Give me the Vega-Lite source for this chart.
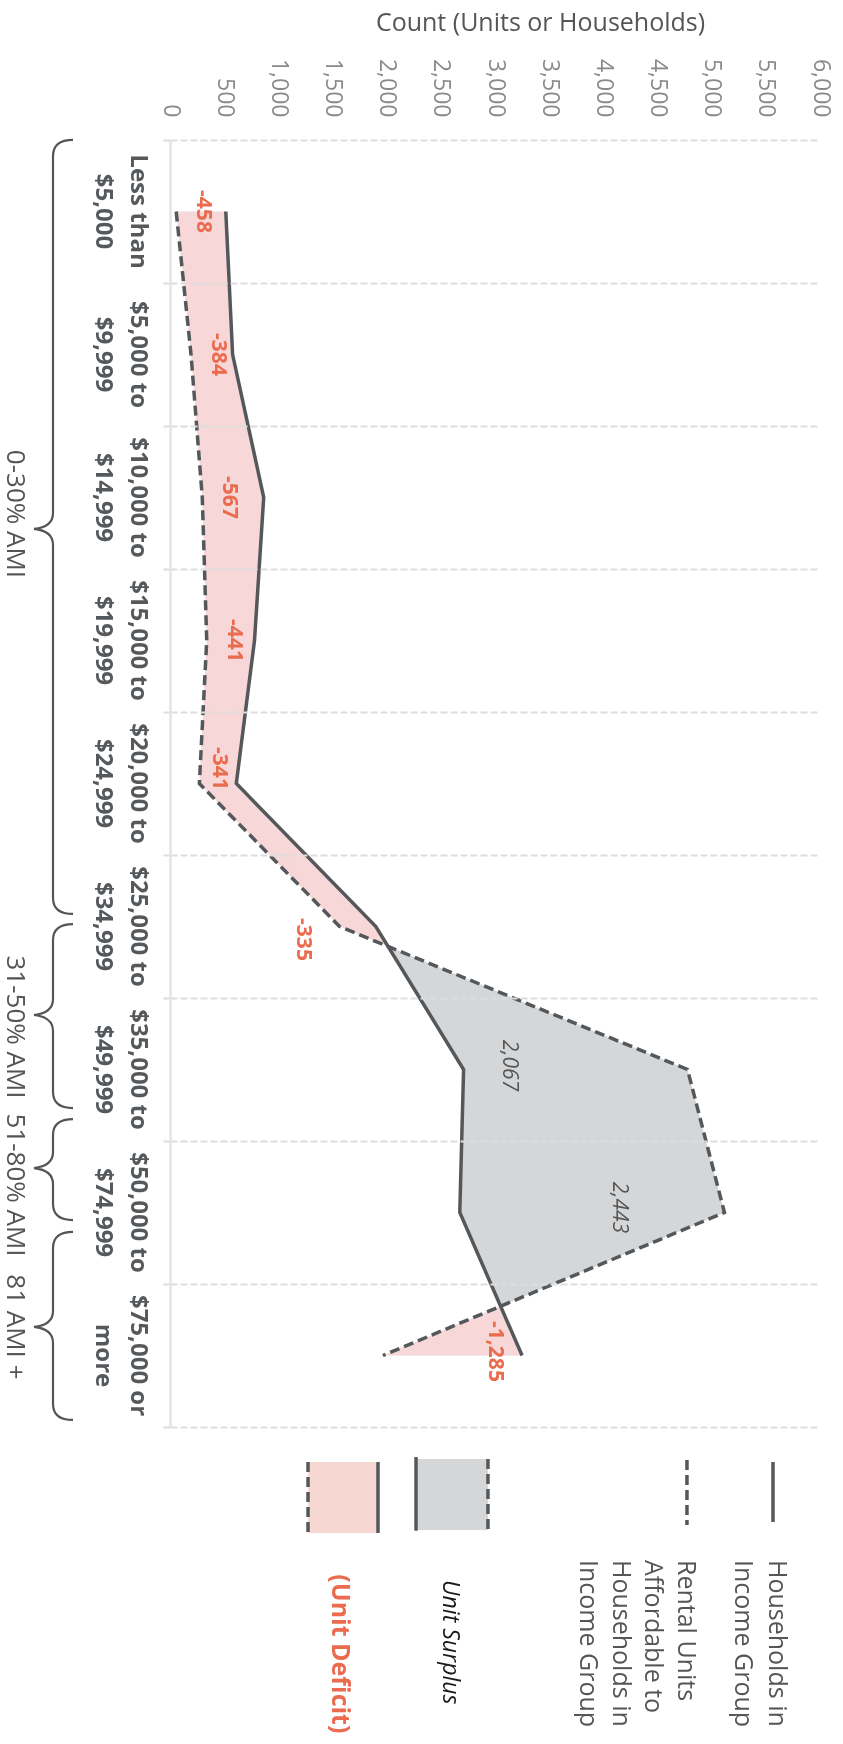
{
  "$schema": "https://vega.github.io/schema/vega-lite/v6.json",
  "width": 650,
  "height": 1287,
  "autosize": {"type": "none"},
  "padding": {"left": 170, "top": 140, "right": 23, "bottom": 317},
  "background": "white",
  "config": {
    "font": "Open Sans",
    "view": {"stroke": null},
    "locale": {"number": {"decimal": ".", "thousands": ",", "grouping": [3], "currency": ["$", ""], "minus": "-"}}
  },
  "datasets": {
    "income": [
      {"idx": 0, "income": "Less than\n$5,000", "ami": "0-30% AMI", "households": 515, "rental": 57, "gap": -458},
      {"idx": 1, "income": "$5,000 to\n$9,999", "ami": "0-30% AMI", "households": 578, "rental": 194, "gap": -384},
      {"idx": 2, "income": "$10,000 to\n$14,999", "ami": "0-30% AMI", "households": 865, "rental": 298, "gap": -567},
      {"idx": 3, "income": "$15,000 to\n$19,999", "ami": "0-30% AMI", "households": 780, "rental": 339, "gap": -441},
      {"idx": 4, "income": "$20,000 to\n$24,999", "ami": "0-30% AMI", "households": 612, "rental": 271, "gap": -341},
      {"idx": 5, "income": "$25,000 to\n$34,999", "ami": "0-30% AMI", "households": 1900, "rental": 1565, "gap": -335},
      {"idx": 6, "income": "$35,000 to\n$49,999", "ami": "31-50% AMI", "households": 2710, "rental": 4777, "gap": 2067},
      {"idx": 7, "income": "$50,000 to\n$74,999", "ami": "51-80% AMI", "households": 2675, "rental": 5118, "gap": 2443},
      {"idx": 8, "income": "$75,000 or\nmore", "ami": "81 AMI +", "households": 3250, "rental": 1965, "gap": -1285}
    ],
    "groups": [
      {"ami": "0-30% AMI", "pos": 2.115},
      {"ami": "31-50% AMI", "pos": 5.703},
      {"ami": "51-80% AMI", "pos": 6.808},
      {"ami": "81 AMI +", "pos": 7.8}
    ]
  },
  "data": {"name": "income"},
  "layer": [
    {
      "mark": {"type": "area", "orient": "horizontal", "color": "#D5D6D8", "interpolate": "linear"},
      "encoding": {
        "y": {
          "field": "idx", "type": "quantitative",
          "scale": {"domain": [-0.5, 8.5], "reverse": true, "nice": false, "zero": false},
          "axis": {
            "values": [-0.5, 0.5, 1.5, 2.5, 3.5, 4.5, 5.5, 6.5, 7.5, 8.5],
            "labels": false, "title": null,
            "grid": true, "gridColor": "#dddddd", "gridDash": [7, 3], "gridWidth": 2,
            "ticks": true, "tickSize": 7, "tickColor": "#dddddd", "tickDash": [7, 3], "tickWidth": 2,
            "domain": true, "domainColor": "#e4e4e4", "domainWidth": 2.5,
            "zindex": 1
          }
        },
        "x": {
          "field": "households", "type": "quantitative", "stack": null,
          "scale": {"domain": [0, 6000], "nice": false, "zero": true},
          "axis": {
            "orient": "top",
            "values": [0, 500, 1000, 1500, 2000, 2500, 3000, 3500, 4000, 4500, 5000, 5500, 6000],
            "format": ",d",
            "labelAngle": 90, "labelAlign": "right", "labelBaseline": "middle",
            "labelPadding": 23, "ticks": false, "tickSize": 0, "domain": false, "grid": false,
            "labelColor": "#8a8a8a", "labelFontSize": 23, "labelFont": "Open Sans",
            "labelFlush": false, "labelOverlap": false, "labelBound": false,
            "title": "Count (Units or Households)", "titleFontSize": 25, "titleFontWeight": "normal",
            "titleColor": "#555555", "titleX": 370, "titleY": -118, "titleAlign": "center",
            "titleBaseline": "middle", "titleAngle": 0, "titleFont": "Open Sans"
          }
        },
        "x2": {"field": "rental"}
      }
    },
    {
      "mark": {"type": "area", "orient": "horizontal", "color": "#F7D7D2", "blend": "lighten"},
      "encoding": {
        "y": {"field": "idx", "type": "quantitative"},
        "x": {"field": "households", "type": "quantitative", "stack": null}
      }
    },
    {
      "mark": {"type": "line", "color": "#54585B", "strokeWidth": 3.5},
      "encoding": {
        "y": {"field": "idx", "type": "quantitative"},
        "x": {"field": "households", "type": "quantitative"},
        "order": {"field": "idx"}
      }
    },
    {
      "mark": {"type": "line", "color": "#54585B", "strokeWidth": 3.5, "strokeDash": [10, 5]},
      "encoding": {
        "y": {"field": "idx", "type": "quantitative"},
        "x": {"field": "rental", "type": "quantitative"},
        "order": {"field": "idx"}
      }
    },
    {
      "transform": [{"filter": "datum.idx <= 3"}],
      "mark": {"type": "text", "angle": 90, "align": "center", "baseline": "middle", "dy": -27, "fontSize": 21, "fontWeight": "bold", "color": "#EA6B4E"},
      "encoding": {
        "y": {"field": "idx", "type": "quantitative"},
        "x": {"field": "rental", "type": "quantitative"},
        "text": {"field": "gap", "format": ",d"}
      }
    },
    {
      "transform": [{"filter": "datum.idx == 4"}],
      "mark": {"type": "text", "angle": 90, "align": "center", "baseline": "middle", "dy": -20, "dx": -15, "fontSize": 21, "fontWeight": "bold", "color": "#EA6B4E"},
      "encoding": {
        "y": {"field": "idx", "type": "quantitative"},
        "x": {"field": "rental", "type": "quantitative"},
        "text": {"field": "gap", "format": ",d"}
      }
    },
    {
      "transform": [{"filter": "datum.idx == 5"}],
      "mark": {"type": "text", "angle": 90, "align": "center", "baseline": "middle", "dy": 37, "dx": 13, "fontSize": 21, "fontWeight": "bold", "color": "#EA6B4E"},
      "encoding": {
        "y": {"field": "idx", "type": "quantitative"},
        "x": {"field": "rental", "type": "quantitative"},
        "text": {"field": "gap", "format": ",d"}
      }
    },
    {
      "transform": [{"filter": "datum.idx == 6"}],
      "mark": {"type": "text", "angle": 90, "align": "center", "baseline": "middle", "dy": -45, "dx": -4, "fontSize": 21, "fontStyle": "italic", "color": "#555555"},
      "encoding": {
        "y": {"field": "idx", "type": "quantitative"},
        "x": {"field": "households", "type": "quantitative"},
        "text": {"field": "gap", "format": ",d"}
      }
    },
    {
      "transform": [{"filter": "datum.idx == 7"}],
      "mark": {"type": "text", "angle": 90, "align": "center", "baseline": "middle", "dy": -159, "dx": -5, "fontSize": 21, "fontStyle": "italic", "color": "#555555"},
      "encoding": {
        "y": {"field": "idx", "type": "quantitative"},
        "x": {"field": "households", "type": "quantitative"},
        "text": {"field": "gap", "format": ",d"}
      }
    },
    {
      "transform": [{"filter": "datum.idx == 8"}],
      "mark": {"type": "text", "angle": 90, "align": "center", "baseline": "middle", "dy": 27, "dx": -4, "fontSize": 21, "fontWeight": "bold", "color": "#EA6B4E"},
      "encoding": {
        "y": {"field": "idx", "type": "quantitative"},
        "x": {"field": "households", "type": "quantitative"},
        "text": {"field": "gap", "format": ",d"}
      }
    },
    {
      "mark": {"type": "text", "angle": 90, "align": "center", "baseline": "middle", "lineBreak": "\n", "lineHeight": 35, "fontSize": 24, "fontWeight": "bold", "color": "#56595C"},
      "encoding": {
        "y": {"field": "idx", "type": "quantitative"},
        "x": {"datum": -300, "type": "quantitative"},
        "text": {"field": "income"}
      }
    },
    {
      "data": {"name": "groups"},
      "mark": {"type": "point", "filled": false, "stroke": "#555555", "strokeWidth": 2.2, "size": 4, "opacity": 1},
      "encoding": {
        "y": {"field": "pos", "type": "quantitative"},
        "x": {"datum": -1080, "type": "quantitative"},
        "shape": {
          "field": "ami", "type": "nominal", "legend": null,
          "scale": {
            "domain": ["0-30% AMI", "31-50% AMI", "51-80% AMI", "81 AMI +"],
            "range": [
              "M 20 -374 Q 0 -374 0 -358 L 0 -1 Q 0 13 -19 15 Q 0 17 0 31 L 0 384 Q 0 400 20 400",
              "M 20 -103 Q 0 -103 0 -87 L 0 -28 Q 0 -14 -19 -12 Q 0 -10 0 4 L 0 65 Q 0 81 20 81",
              "M 20 -66 Q 0 -66 0 -50 L 0 -33 Q 0 -19 -19 -17 Q 0 -15 0 -1 L 0 19 Q 0 35 20 35",
              "M 20 -95 Q 0 -95 0 -79 L 0 -16 Q 0 -2 -19 0 Q 0 2 0 16 L 0 77 Q 0 93 20 93"
            ]
          }
        }
      }
    },
    {
      "data": {"name": "groups"},
      "mark": {"type": "text", "angle": 90, "align": "center", "baseline": "middle", "fontSize": 26, "color": "#555555"},
      "encoding": {
        "y": {"field": "pos", "type": "quantitative"},
        "x": {"datum": -1431, "type": "quantitative"},
        "text": {"field": "ami"}
      }
    },
    {
      "data": {"values": [{"key": "Households in Income Group"}]},
      "mark": {"type": "rule", "color": "#54585B", "strokeWidth": 3.5},
      "encoding": {
        "x": {"datum": 5566, "type": "quantitative"},
        "y": {"datum": 8.745, "type": "quantitative"},
        "y2": {"datum": 9.164}
      }
    },
    {
      "data": {"values": [{"key": "Rental Units Affordable"}]},
      "mark": {"type": "rule", "color": "#54585B", "strokeWidth": 3.5, "strokeDash": [10, 5]},
      "encoding": {
        "x": {"datum": 4772, "type": "quantitative"},
        "y": {"datum": 8.731, "type": "quantitative"},
        "y2": {"datum": 9.185}
      }
    },
    {
      "data": {"values": [{"key": "Unit Surplus"}]},
      "mark": {"type": "rect", "color": "#D5D6D8"},
      "encoding": {
        "x": {"datum": 2271, "type": "quantitative"},
        "x2": {"datum": 2935},
        "y": {"datum": 8.724, "type": "quantitative"},
        "y2": {"datum": 9.22}
      }
    },
    {
      "data": {"values": [{"key": "Unit Surplus"}]},
      "mark": {"type": "rule", "color": "#54585B", "strokeWidth": 3.5},
      "encoding": {
        "x": {"datum": 2271, "type": "quantitative"},
        "y": {"datum": 8.71, "type": "quantitative"},
        "y2": {"datum": 9.225}
      }
    },
    {
      "data": {"values": [{"key": "Unit Surplus"}]},
      "mark": {"type": "rule", "color": "#54585B", "strokeWidth": 3.5, "strokeDash": [10, 5]},
      "encoding": {
        "x": {"datum": 2935, "type": "quantitative"},
        "y": {"datum": 8.724, "type": "quantitative"},
        "y2": {"datum": 9.22}
      }
    },
    {
      "data": {"values": [{"key": "Unit Deficit"}]},
      "mark": {"type": "rect", "color": "#F7D7D2"},
      "encoding": {
        "x": {"datum": 1274, "type": "quantitative"},
        "x2": {"datum": 1920},
        "y": {"datum": 8.745, "type": "quantitative"},
        "y2": {"datum": 9.241}
      }
    },
    {
      "data": {"values": [{"key": "Unit Deficit"}]},
      "mark": {"type": "rule", "color": "#54585B", "strokeWidth": 3.5, "strokeDash": [10, 5]},
      "encoding": {
        "x": {"datum": 1274, "type": "quantitative"},
        "y": {"datum": 8.745, "type": "quantitative"},
        "y2": {"datum": 9.241}
      }
    },
    {
      "data": {"values": [{"key": "Unit Deficit"}]},
      "mark": {"type": "rule", "color": "#54585B", "strokeWidth": 3.5},
      "encoding": {
        "x": {"datum": 1920, "type": "quantitative"},
        "y": {"datum": 8.745, "type": "quantitative"},
        "y2": {"datum": 9.241}
      }
    },
    {
      "data": {"values": [{"label": "Households in\nIncome Group"}]},
      "mark": {"type": "text", "angle": 90, "align": "left", "baseline": "middle", "lineBreak": "\n", "lineHeight": 34, "fontSize": 25, "color": "#555555"},
      "encoding": {
        "x": {"datum": 5603, "type": "quantitative"},
        "y": {"datum": 9.43, "type": "quantitative"},
        "text": {"field": "label"}
      }
    },
    {
      "data": {"values": [{"label": "Rental Units\nAffordable to\nHouseholds in\nIncome Group"}]},
      "mark": {"type": "text", "angle": 90, "align": "left", "baseline": "middle", "lineBreak": "\n", "lineHeight": 32.5, "fontSize": 25, "color": "#555555"},
      "encoding": {
        "x": {"datum": 4763, "type": "quantitative"},
        "y": {"datum": 9.43, "type": "quantitative"},
        "text": {"field": "label"}
      }
    },
    {
      "data": {"values": [{"label": "Unit Surplus"}]},
      "mark": {"type": "text", "angle": 90, "align": "left", "baseline": "middle", "fontSize": 23, "fontStyle": "italic", "color": "#1a1a1a"},
      "encoding": {
        "x": {"datum": 2585, "type": "quantitative"},
        "y": {"datum": 9.57, "type": "quantitative"},
        "text": {"field": "label"}
      }
    },
    {
      "data": {"values": [{"label": "(Unit Deficit)"}]},
      "mark": {"type": "text", "angle": 90, "align": "left", "baseline": "middle", "fontSize": 25, "fontWeight": "bold", "color": "#EA6B4E"},
      "encoding": {
        "x": {"datum": 1569, "type": "quantitative"},
        "y": {"datum": 9.53, "type": "quantitative"},
        "text": {"field": "label"}
      }
    }
  ]
}
